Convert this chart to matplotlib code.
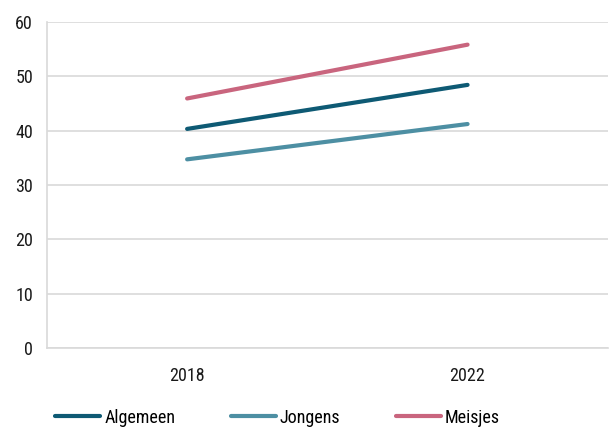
import matplotlib.pyplot as plt

# gegevens
jaren = ["2018", "2022"]
algemeen = [40.3, 48.4]
jongens = [34.7, 41.2]
meisjes = [45.9, 55.8]

plt.rcParams['font.family'] = ['Liberation Sans Narrow', 'Roboto Condensed', 'DejaVu Sans']

fig = plt.figure(figsize=(6.09, 4.28), dpi=100)
ax = fig.add_axes([0.077, 0.187, 0.921, 0.762])

x = range(len(jaren))
ax.plot(x, algemeen, color='#0e5a74', lw=3, solid_capstyle='round', label='Algemeen')
ax.plot(x, jongens, color='#4d8fa3', lw=3, solid_capstyle='round', label='Jongens')
ax.plot(x, meisjes, color='#c9657e', lw=3, solid_capstyle='round', label='Meisjes')

ax.set_xlim(-0.5, 1.5)
ax.set_ylim(0, 60)
ax.set_yticks(range(0, 61, 10))
ax.set_xticks(list(x))
ax.set_xticklabels(jaren)
ax.grid(axis='y', color='#d9d9d9', lw=1.2)
ax.set_axisbelow(True)
for s in ['top', 'right']:
    ax.spines[s].set_visible(False)
ax.spines['left'].set_color('#d9d9d9')
ax.spines['bottom'].set_color('#d9d9d9')
ax.spines['left'].set_linewidth(1.2)
ax.spines['bottom'].set_linewidth(1.2)
ax.tick_params(length=0, labelsize=13, colors='#1a1a1a')
ax.tick_params(axis='y', pad=10)
ax.tick_params(axis='x', pad=14)

fig.legend(loc='lower center', bbox_to_anchor=(0.456, -0.035), ncol=3, frameon=False,
           fontsize=13, handlelength=2.5, handletextpad=0.2, columnspacing=3.1)

plt.savefig('out.png', dpi=100)
